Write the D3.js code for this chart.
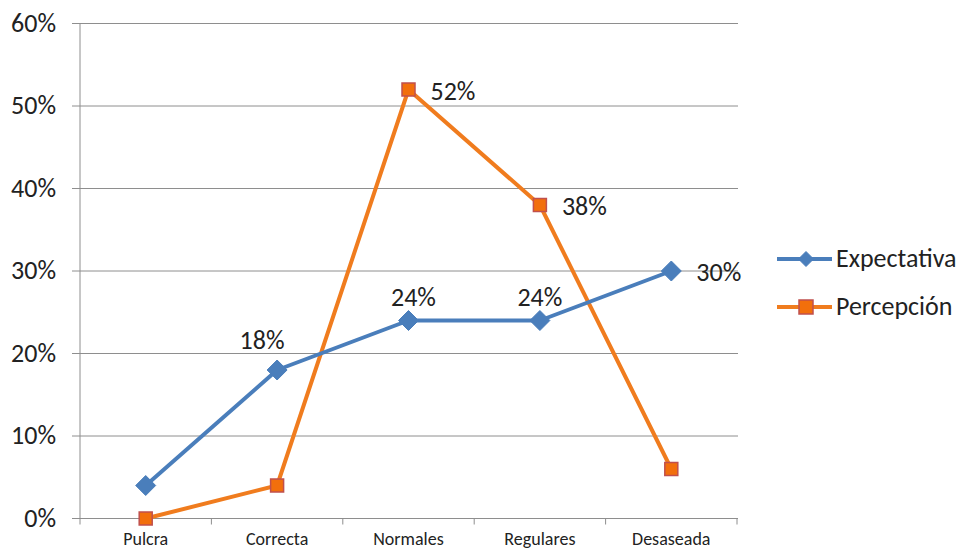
<!DOCTYPE html>
<html><head><meta charset="utf-8">
<script src="https://cdn.jsdelivr.net/npm/d3@7/dist/d3.min.js"></script>
<style>body{margin:0;background:#fff}svg{display:block}</style>
</head><body>
<script>
const categories = ["Pulcra","Correcta","Normales","Regulares","Desaseada"];
const expectativa = [4,18,24,24,30];
const percepcion = [0,4,52,38,6];
const yTicks = [0,10,20,30,40,50,60];
const seriesNames = ["Expectativa","Percepción"];
const expLabels = [false,true,true,true,true];
const perLabels = [false,false,true,true,false];

const W=962,H=551;
const svg=d3.select("body").append("svg").attr("width",W).attr("height",H);
const font="Carlito, Calibri, 'Open Sans', 'Liberation Sans', sans-serif";
const x=d3.scaleBand().domain(categories).range([80,737]);
const y=d3.scaleLinear().domain([0,60]).range([518.5,23.5]);
const cx=c=>x(c)+x.bandwidth()/2;
const gridCol="#8e8e8e";

// gridlines
svg.append("g").selectAll("line").data(yTicks).join("line")
 .attr("x1",72).attr("x2",738).attr("y1",d=>y(d)).attr("y2",d=>y(d))
 .attr("stroke",gridCol).attr("stroke-width",1);
// y axis
svg.append("line").attr("x1",80).attr("x2",80).attr("y1",y(60)).attr("y2",y(0)).attr("stroke",gridCol);
svg.append("g").selectAll("text").data(yTicks).join("text")
 .attr("x",56).attr("y",d=>y(d)+8).attr("text-anchor","end")
 .attr("font-family",font).attr("font-size",26).attr("fill","#222").text(d=>d+"%");
// x axis ticks
const xt=categories.map(c=>x(c)).concat([x.range()[1]]);
svg.append("g").selectAll("line").data(xt).join("line")
 .attr("x1",d=>d).attr("x2",d=>d).attr("y1",y(0)).attr("y2",y(0)+6).attr("stroke",gridCol);
svg.append("g").selectAll("text").data(categories).join("text")
 .attr("x",d=>cx(d)).attr("y",545).attr("text-anchor","middle")
 .attr("font-family",font).attr("font-size",18).attr("fill","#222").text(d=>d);

const blue="#4a7ebb", orange="#f07c1e";
const line=d3.line().x((d,i)=>cx(categories[i])).y(d=>y(d));
svg.append("path").datum(percepcion).attr("d",line).attr("fill","none").attr("stroke",orange).attr("stroke-width",4).attr("stroke-linejoin","round");
svg.append("path").datum(expectativa).attr("d",line).attr("fill","none").attr("stroke",blue).attr("stroke-width",4).attr("stroke-linejoin","round");

function drawDiamond(g,px,py,s){
  g.append("path").attr("d",`M0,${-s}L${s},0L0,${s}L${-s},0Z`).attr("transform",`translate(${px},${py})`).attr("fill",blue).attr("stroke",blue).attr("stroke-width",1);
}
function drawSquare(g,px,py,s){
  g.append("rect").attr("x",px-s/2).attr("y",py-s/2).attr("width",s).attr("height",s).attr("fill","#f26f0c").attr("stroke","#c0504d").attr("stroke-width",1.5);
}
const mg=svg.append("g");
percepcion.forEach((v,i)=>drawSquare(mg,cx(categories[i]),y(v),13));
expectativa.forEach((v,i)=>drawDiamond(mg,cx(categories[i]),y(v),10));

// data labels
const lg=svg.append("g").attr("font-family",font).attr("font-size",26).attr("fill","#222");
const expOff=[null,[-15,-21],[5,-15],[0,-15],null];
expectativa.forEach((v,i)=>{
  if(!expLabels[i])return;
  if(i===4){
    lg.append("text").attr("x",cx(categories[i])+25).attr("y",y(v)+10).text(v+"%");
  } else {
    lg.append("text").attr("x",cx(categories[i])+expOff[i][0]).attr("y",y(v)+expOff[i][1]).attr("text-anchor","middle").text(v+"%");
  }
});
percepcion.forEach((v,i)=>{
  if(!perLabels[i])return;
  lg.append("text").attr("x",cx(categories[i])+22).attr("y",y(v)+10).text(v+"%");
});

// legend
const leg=svg.append("g").attr("font-family",font).attr("font-size",26).attr("fill","#222");
const legY=[259,307];
seriesNames.forEach((n,i)=>{
  const col=i===0?blue:orange;
  leg.append("line").attr("x1",777).attr("x2",832).attr("y1",legY[i]).attr("y2",legY[i]).attr("stroke",col).attr("stroke-width",4);
  if(i===0) drawDiamond(leg,806,legY[i],7.5); else drawSquare(leg,806,legY[i],14);
  leg.append("text").attr("x",836).attr("y",legY[i]+8).text(n);
});
</script>
</body></html>
